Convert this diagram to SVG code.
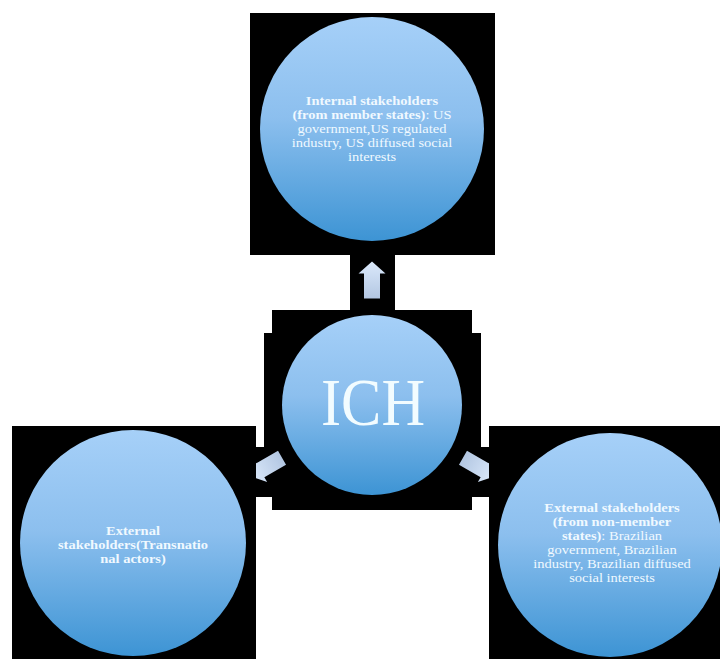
<svg xmlns="http://www.w3.org/2000/svg" width="720" height="659" viewBox="0 0 720 659">
  <defs>
    <linearGradient id="circ" x1="0" y1="0" x2="0" y2="1">
      <stop offset="0" stop-color="#a6d0f8"/>
      <stop offset="0.45" stop-color="#8cbfee"/>
      <stop offset="1" stop-color="#3d94d4"/>
    </linearGradient>
    <linearGradient id="arr" x1="0" y1="0" x2="0" y2="1">
      <stop offset="0" stop-color="#dbe9fb"/>
      <stop offset="1" stop-color="#b3c7e2"/>
    </linearGradient>
    <polygon id="arrow" points="0,-18.5 13.5,-6.5 8,-6.5 8,18.5 -8,18.5 -8,-6.5 -13.5,-6.5" fill="url(#arr)"/>
    <style>
      .bg { fill: #000000; }
      .node { fill: url(#circ); }
      .t { font-family: "Liberation Serif", "DejaVu Serif", serif; font-size: 12.5px; fill: #f0f9ff; text-anchor: middle; }
      .b { font-weight: bold; }
      .big { font-family: "Liberation Serif", "DejaVu Serif", serif; font-size: 68px; fill: #f2fcff; text-anchor: middle; }
    </style>
  </defs>
  <rect width="720" height="659" fill="#ffffff"/>

  <g id="node-ich">
    <rect class="bg" x="272" y="310" width="200" height="200"/>
    <rect class="bg" x="264" y="333" width="217" height="164"/>
    <circle class="node" cx="372" cy="405" r="90"/>
    <text class="big" x="373" y="425" textLength="104" lengthAdjust="spacingAndGlyphs">ICH</text>
  </g>

  <g id="connectors">
    <rect class="bg" x="350" y="254" width="45" height="57"/>
    <rect class="bg" x="255" y="447" width="20" height="50"/>
    <rect class="bg" x="470" y="447" width="20" height="50"/>
    <use href="#arrow" transform="translate(372,280)"/>
    <use href="#arrow" transform="translate(266,467) rotate(-120)"/>
    <use href="#arrow" transform="translate(479,467) rotate(120)"/>
  </g>

  <g id="node-internal">
    <rect class="bg" x="250" y="13" width="245" height="242"/>
    <circle class="node" cx="372" cy="129" r="112"/>
    <g transform="translate(372,0) scale(1.16,1)">
      <text class="t" x="0" y="105"><tspan class="b">Internal stakeholders</tspan></text>
      <text class="t" x="0" y="119"><tspan class="b">(from member states)</tspan>: US</text>
      <text class="t" x="0" y="133">government,US regulated</text>
      <text class="t" x="0" y="147">industry, US diffused social</text>
      <text class="t" x="0" y="161">interests</text>
    </g>
  </g>

  <g id="node-transnational">
    <rect class="bg" x="12" y="426" width="244" height="233"/>
    <circle class="node" cx="133" cy="543" r="113"/>
    <g transform="translate(133,0) scale(1.16,1)">
      <text class="t b" x="0" y="535">External</text>
      <text class="t b" x="0" y="549">stakeholders(Transnatio</text>
      <text class="t b" x="0" y="563">nal actors)</text>
    </g>
  </g>

  <g id="node-external">
    <rect class="bg" x="489" y="426" width="231" height="233"/>
    <circle class="node" cx="610" cy="545" r="112"/>
    <g transform="translate(612,0) scale(1.16,1)">
      <text class="t" x="0" y="512"><tspan class="b">External stakeholders</tspan></text>
      <text class="t" x="0" y="526"><tspan class="b">(from non-member</tspan></text>
      <text class="t" x="0" y="540"><tspan class="b">states)</tspan>: Brazilian</text>
      <text class="t" x="0" y="554">government, Brazilian</text>
      <text class="t" x="0" y="568">industry, Brazilian diffused</text>
      <text class="t" x="0" y="582">social interests</text>
    </g>
  </g>
</svg>
